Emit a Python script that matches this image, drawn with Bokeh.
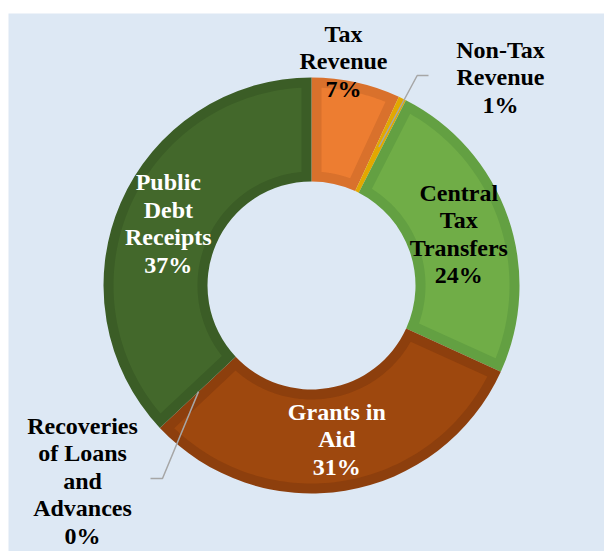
import math
from bokeh.plotting import figure
from bokeh.models import Range1d
from bokeh.embed import file_html
from bokeh.resources import INLINE
from bokeh.core.properties import value

# ---------------- data ----------------
categories = ["Tax Revenue", "Non-Tax Revenue", "Central Tax Transfers",
              "Grants in Aid", "Recoveries of Loans and Advances", "Public Debt Receipts"]
label_lines = [["Tax", "Revenue"], ["Non-Tax", "Revenue"], ["Central", "Tax", "Transfers"],
               ["Grants in", "Aid"], ["Recoveries", "of Loans", "and", "Advances"],
               ["Public", "Debt", "Receipts"]]
shares = [6.9, 0.6, 24.3, 31.2, 0.0, 37.0]
pct_labels = [f"{round(s)}%" for s in shares]

# ---------------- styles / layout ----------------
fill_colors = ["#ED7D31", "#EBB000", "#70AD47", "#9E480E", "#5B9BD5", "#43682B"]
edge_colors = ["#D9712C", "#E2A800", "#63A042", "#8D3F0D", "#4A8AC4", "#3B5D26"]
text_colors = ["#000000", "#000000", "#000000", "#FFFFFF", "#000000", "#FFFFFF"]
BG = "#DDE8F4"
R_OUT, R_IN, BORDER = 208, 104, 10
LABEL_R = 156
LINE_SP = 27.5
FONT_SIZE = "24px"
# label centres for labels placed outside the ring (dx, dy from centre, px)
outside_labels = {0: (32, 224.5), 1: (189, 208.5), 4: (-229, -195)}
# leader lines: (start point, elbow point, radius of end on the slice)
leaders = {1: ((117, 210), (105.7, 210), 154), 4: ((-161, -193), (-149, -193), 155)}

W, H = 604, 551
LEFT, TOP = 8, 13
CX, CY = 311, 285  # page position of the donut centre
p = figure(width=W, height=H, output_backend="svg", toolbar_location=None,
           x_range=Range1d(LEFT - CX, W - CX),
           y_range=Range1d(CY - H, CY - TOP),
           x_axis_location=None, y_axis_location=None,
           min_border_left=LEFT, min_border_right=0, min_border_bottom=0,
           min_border_top=TOP)
p.grid.visible = False
p.outline_line_color = None
p.background_fill_color = BG
p.border_fill_color = "white"

total = sum(shares)
starts, ends = [], []
acc = 0.0
for s in shares:
    starts.append(acc / total * 2 * math.pi)
    acc += s
    ends.append(acc / total * 2 * math.pi)


def pt(r, a):
    return r * math.sin(a), r * math.cos(a)


def inset(a0, a1):
    ro, ri = R_OUT - BORDER, R_IN + BORDER
    lo_o, hi_o = a0 + math.asin(BORDER / ro), a1 - math.asin(BORDER / ro)
    lo_i, hi_i = a0 + math.asin(BORDER / ri), a1 - math.asin(BORDER / ri)
    if hi_i <= lo_i:
        return None
    xs, ys = [], []
    n = 80
    for k in range(n + 1):
        x, y = pt(ro, lo_o + (hi_o - lo_o) * k / n)
        xs.append(x); ys.append(y)
    for k in range(n + 1):
        x, y = pt(ri, hi_i - (hi_i - lo_i) * k / n)
        xs.append(x); ys.append(y)
    return xs, ys


for i, s in enumerate(shares):
    if s <= 0:
        continue
    a0, a1 = starts[i], ends[i]
    p.annular_wedge(x=0, y=0, inner_radius=R_IN, outer_radius=R_OUT,
                    start_angle=math.pi / 2 - a0, end_angle=math.pi / 2 - a1,
                    direction="clock", fill_color=edge_colors[i], line_color=None)
    poly = inset(a0, a1)
    if poly is not None:
        p.patch(poly[0], poly[1], fill_color=fill_colors[i], line_color=None)

# leader lines
for i, (st, el, rr) in leaders.items():
    mid = (starts[i] + ends[i]) / 2
    ex, ey = pt(rr, mid)
    p.line([st[0], el[0], ex], [st[1], el[1], ey], line_color="#A6A6A6", line_width=1.5)

# labels
for i in range(len(shares)):
    lines = label_lines[i] + [pct_labels[i]]
    if i in outside_labels:
        cx, cy = outside_labels[i]
    else:
        mid = (starts[i] + ends[i]) / 2
        cx, cy = pt(LABEL_R, mid)
    n = len(lines)
    ys = [cy + (n - 1) / 2 * LINE_SP - k * LINE_SP for k in range(n)]
    p.text(x=[cx] * n, y=ys, text=lines, text_align="center", text_baseline="middle",
           text_font=value("Liberation Serif"), text_font_style="bold",
           text_font_size=FONT_SIZE, text_color=text_colors[i])

open("out.html", "w").write(file_html(p, INLINE))
